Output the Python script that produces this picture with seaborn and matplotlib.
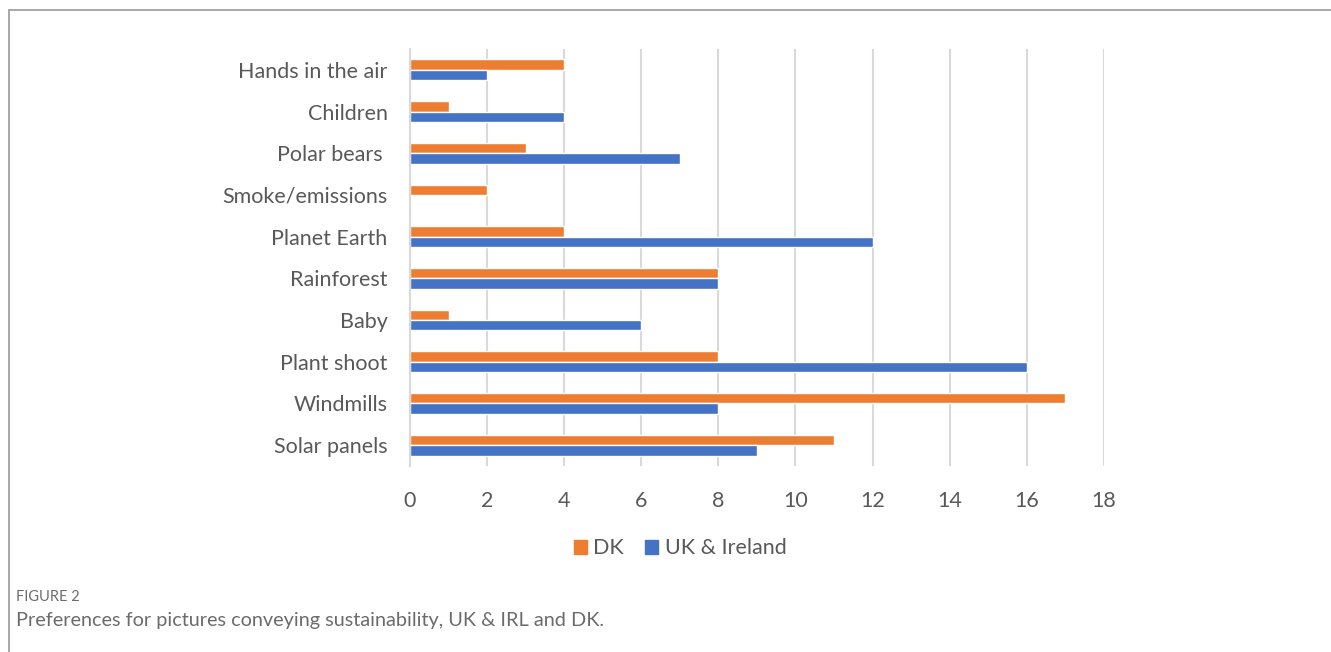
import pandas as pd
import matplotlib.pyplot as plt
import seaborn as sns

categories = ['Hands in the air', 'Children', 'Polar bears ', 'Smoke/emissions', 'Planet Earth',
              'Rainforest', 'Baby', 'Plant shoot', 'Windmills', 'Solar panels']
dk = [4, 1, 3, 2, 4, 8, 1, 8, 17, 11]
uk = [2, 4, 7, 0, 12, 8, 6, 16, 8, 9]
series = ['DK', 'UK & Ireland']
xticks = [0, 2, 4, 6, 8, 10, 12, 14, 16, 18]

df = pd.DataFrame({'picture': categories * 2,
                   'count': dk + uk,
                   'region': [series[0]] * len(dk) + [series[1]] * len(uk)})

sns.set_style('white')
plt.rcParams['font.family'] = ['Lato', 'DejaVu Sans']

fig = plt.figure(figsize=(13.31, 6.52), dpi=100)
ax = fig.add_axes([0.308, 0.2853, 0.5214, 0.6395])

sns.barplot(data=df, y='picture', x='count', hue='region', order=categories,
            hue_order=series, palette=['#ED7D31', '#4472C4'], width=0.5,
            orient='h', ax=ax, legend=False, saturation=1)

ax.set_xlim(0, 18)
ax.set_xticks(xticks)
ax.set_xlabel('')
ax.set_ylabel('')
ax.grid(axis='x', color='#D9D9D9', linewidth=1.5)
ax.set_axisbelow(True)
for s in ['top', 'right', 'bottom']:
    ax.spines[s].set_visible(False)
ax.spines['left'].set_color('#D9D9D9')
ax.spines['left'].set_linewidth(1.5)
ax.tick_params(axis='both', length=0, labelsize=15.5, colors='#595959')
ax.tick_params(axis='x', pad=18)
ax.tick_params(axis='y', pad=16)

handles = [plt.Rectangle((0, 0), 1, 1, color=c) for c in ['#ED7D31', '#4472C4']]
fig.legend(handles, series, loc='center', bbox_to_anchor=(0.511, 0.159), ncol=2,
           frameon=False, fontsize=15.5, handlelength=0.6, handleheight=0.6,
           handletextpad=0.3, columnspacing=1.0, labelcolor='#595959')

# frame of the figure panel
fig.add_artist(plt.Line2D([0.007, 1.0], [0.985, 0.985], color='#9a9a9a', linewidth=1.2))
fig.add_artist(plt.Line2D([0.007, 0.007], [0.0, 0.985], color='#9a9a9a', linewidth=1.2))

fig.text(0.012, 0.084, 'FIGURE 2', fontsize=10.5, color='#6b6b6b', va='center')
fig.text(0.012, 0.048, 'Preferences for pictures conveying sustainability, UK & IRL and DK.',
         fontsize=14.3, color='#6b6b6b', va='center')

fig.savefig('out.png', dpi=100)
